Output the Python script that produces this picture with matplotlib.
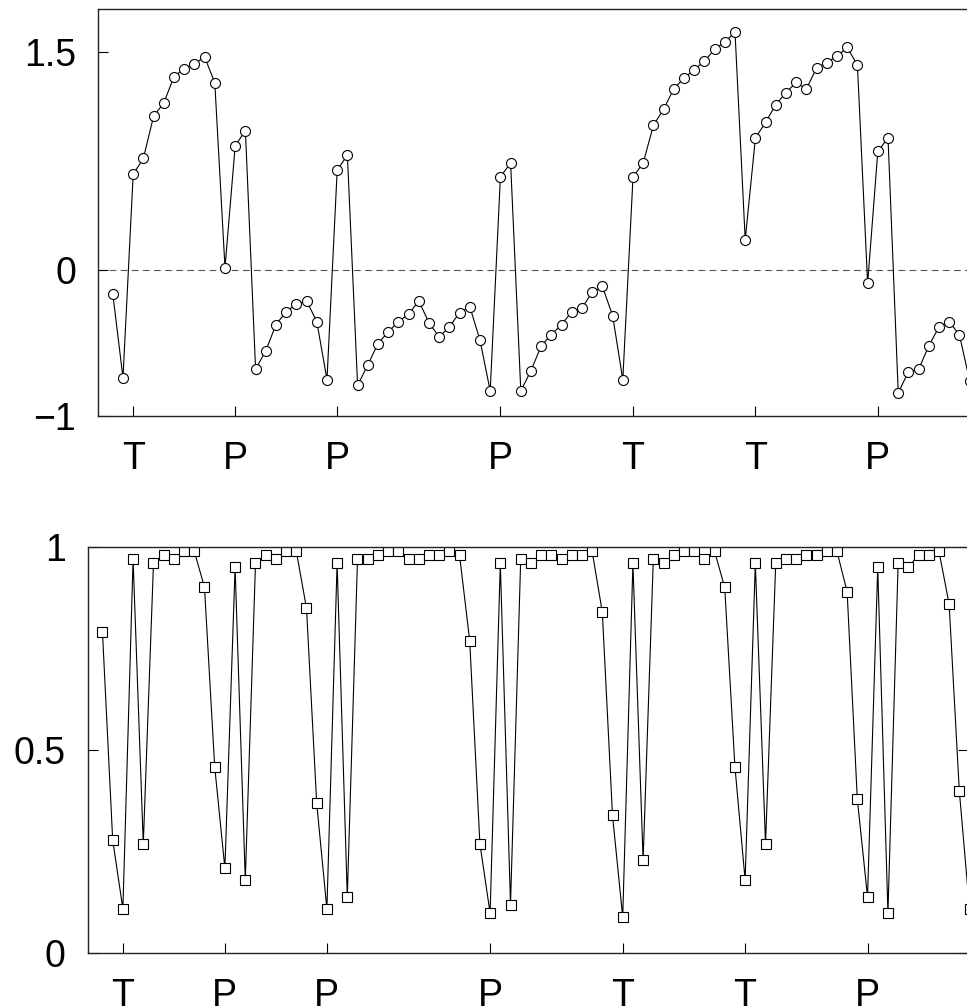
#Import relevant packages
import numpy as np
import matplotlib
matplotlib.use('Agg')
import matplotlib.pyplot as plt

plt.rcParams['font.family'] = ['Liberation Sans', 'DejaVu Sans']

#Upper series (circles), one value per step
upper = [-0.16, -0.738, 0.661, 0.771, 1.060, 1.152, 1.331, 1.388, 1.420, 1.468,
         1.290, 0.019, 0.858, 0.961, -0.679, -0.551, -0.372, -0.282, -0.232, -0.209,
         -0.351, -0.750, 0.691, 0.792, -0.789, -0.649, -0.502, -0.422, -0.351, -0.300,
         -0.209, -0.360, -0.456, -0.387, -0.289, -0.248, -0.479, -0.828, 0.643, 0.739,
         -0.828, -0.688, -0.518, -0.440, -0.372, -0.282, -0.257, -0.149, -0.110, -0.310,
         -0.750, 0.643, 0.739, 0.998, 1.108, 1.250, 1.321, 1.381, 1.438, 1.521,
         1.569, 1.638, 0.211, 0.911, 1.019, 1.140, 1.223, 1.292, 1.248, 1.393,
         1.429, 1.473, 1.533, 1.411, -0.089, 0.819, 0.911, -0.840, -0.697, -0.679,
         -0.518, -0.387, -0.351, -0.443, -0.757]

#Lower series (squares)
lower = [0.789, 0.279, 0.109, 0.969, 0.269, 0.959, 0.980, 0.969, 0.989, 0.989,
         0.900, 0.459, 0.209, 0.949, 0.180, 0.959, 0.980, 0.969, 0.989, 0.989,
         0.849, 0.369, 0.109, 0.959, 0.139, 0.969, 0.969, 0.980, 0.989, 0.989,
         0.969, 0.969, 0.980, 0.980, 0.989, 0.980, 0.769, 0.269, 0.099, 0.959,
         0.120, 0.969, 0.959, 0.980, 0.980, 0.969, 0.980, 0.980, 0.989, 0.839,
         0.339, 0.089, 0.959, 0.229, 0.969, 0.959, 0.980, 0.989, 0.989, 0.969,
         0.989, 0.900, 0.459, 0.180, 0.959, 0.269, 0.959, 0.969, 0.969, 0.980,
         0.980, 0.989, 0.989, 0.889, 0.379, 0.139, 0.949, 0.099, 0.959, 0.949,
         0.980, 0.980, 0.989, 0.859, 0.399, 0.109]

#Marked steps along the x axis
mark_pos = [2, 12, 22, 38, 51, 63, 75]
mark_lab = ['T', 'P', 'P', 'P', 'T', 'T', 'P']

W, H = 967, 1008
fig = plt.figure(figsize=(W/100, H/100), dpi=100)
ax1 = fig.add_axes([98.3/W, 1-416/H, 880/W, 406.7/H])
ax2 = fig.add_axes([88/W, 1-953.3/H, 880/W, 406.6/H])

line_kw = dict(color='black', lw=0.8, markersize=7.2, markerfacecolor='white',
               markeredgecolor='black', markeredgewidth=0.8)

ax1.plot(np.arange(len(upper)), upper, marker='o', **line_kw)
ax1.axhline(0, color='#555555', lw=0.8, dashes=(6, 4), zorder=0)
ax1.set_ylim(-1, 1.795)
ax1.set_yticks([-1, 0, 1.5])
ax1.set_yticklabels(['\u22121', '0', '1.5'])

ax2.plot(np.arange(len(lower)), lower, marker='s', **line_kw)
ax2.set_ylim(0, 1)
ax2.set_yticks([0, 0.5, 1])
ax2.set_yticklabels(['0', '0.5', '1'])

for ax in (ax1, ax2):
    ax.set_xlim(-1.42, 84.85)
    ax.set_xticks(mark_pos)
    ax.set_xticklabels(mark_lab)
    ax.tick_params(direction='in', length=7, width=0.8, labelsize=27, pad=18,
                   colors='black', right=True)
    ax.tick_params(axis='y', pad=16)
    for s in ax.spines.values():
        s.set_linewidth(1.0)
        s.set_color('#222222')

plt.savefig('out.png', dpi=100)
